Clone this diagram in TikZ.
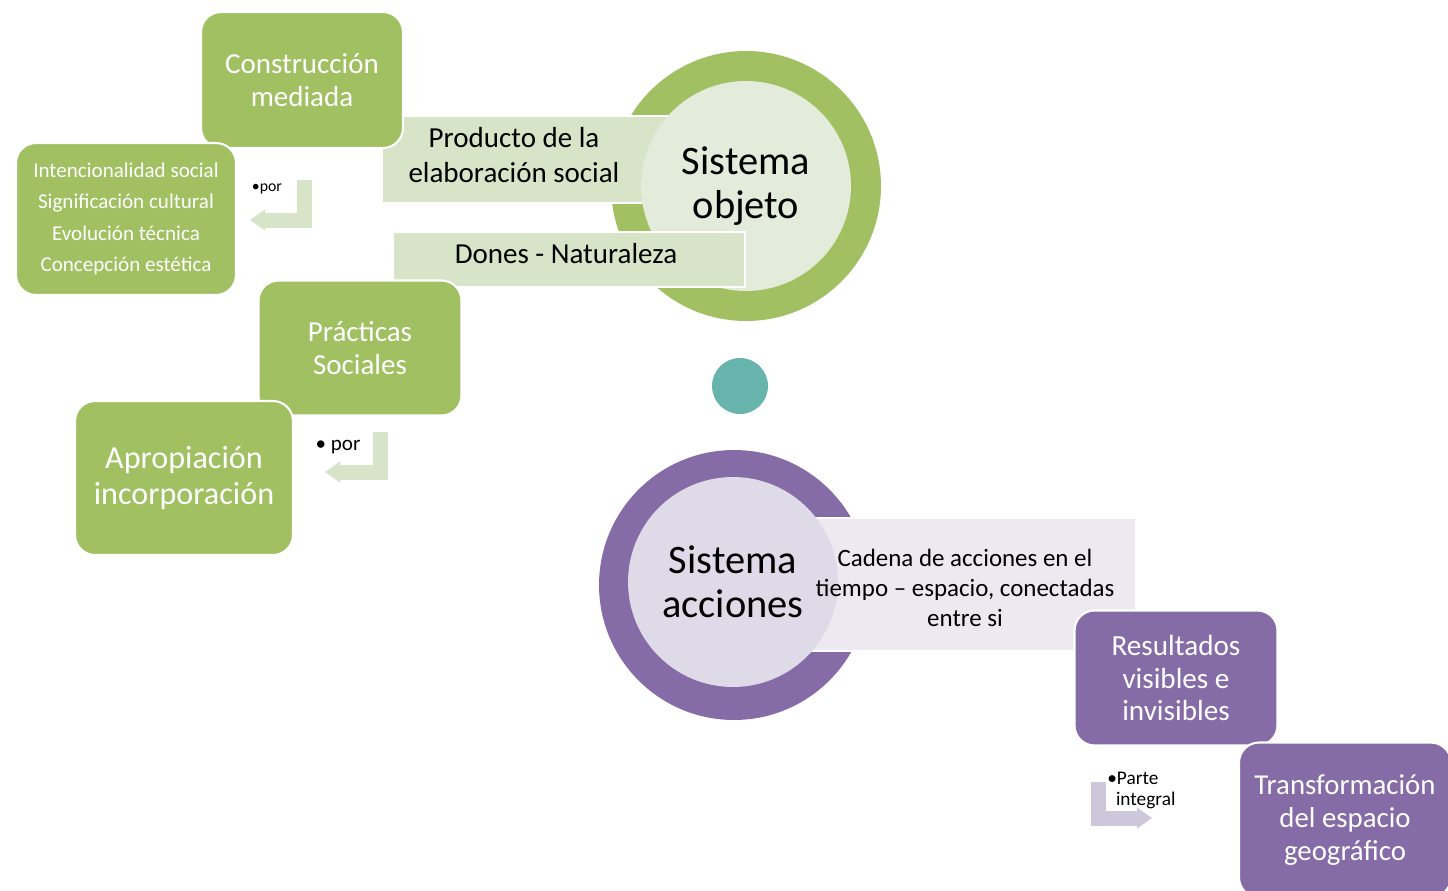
\documentclass[tikz,border=0pt]{standalone}
\usepackage{fontspec}
\setmainfont{Carlito}
\usepackage{tikz}
\usetikzlibrary{arrows.meta}
\definecolor{verde}{RGB}{160,192,98}
\definecolor{verdeclaro}{RGB}{215,228,199}
\definecolor{verdecirc}{RGB}{227,235,218}
\definecolor{morado}{RGB}{134,108,166}
\definecolor{moradoclaro}{RGB}{236,234,240}
\definecolor{moradocirc}{RGB}{223,218,232}
\definecolor{moradoflecha}{RGB}{205,199,219}
\definecolor{turquesa}{RGB}{102,180,172}
\tikzset{
    caja/.style={rectangle,rounded corners=0.4cm,draw=white,line width=1.2pt,text=white,align=center,inner sep=0pt},
    cajaverde/.style={caja,fill=verde},
    cajamorada/.style={caja,fill=morado},
    etiqueta/.style={rectangle,draw=white,line width=1.2pt,align=center,inner sep=0pt},
    anillo/.style={circle,inner sep=0pt,minimum size=5.4cm},
    centro/.style={circle,inner sep=0pt,minimum size=4.2cm,align=center,font=\fontsize{23}{25}\selectfont},
    flecha/.style={line width=0.3cm,-{Triangle[length=0.3cm,width=0.4cm]}},
    nota/.style={inner sep=0pt,align=left}
}

\begin{document}
\begin{tikzpicture}[x=0.02cm,y=-0.02cm]
    \clip (0,0) rectangle (1448,890);
    \fill[white] (0,0) rectangle (1448,890);
    % sistema objeto
    \node[anillo,fill=verde] (anilloobj) at (746,186) {};
    \node[etiqueta,fill=verdeclaro,minimum width=6.92cm,minimum height=1.74cm] (producto) at (555,159.5) {};
    \node[font=\fontsize{16.5}{20}\selectfont,align=center] (productotxt) at (514,155) {Producto de la\\elaboración social};
    \node[centro,fill=verdecirc] (sisobj) at (746,186) {Sistema\\objeto};
    \node[etiqueta,fill=verdeclaro,minimum width=7.04cm,minimum height=1.1cm] (dones) at (569,259.5) {};
    \node[font=\fontsize{16.5}{20}\selectfont] (donestxt) at (566,254) {Dones - Naturaleza};
    % lado verde
    \node[cajaverde,minimum width=4.04cm,minimum height=2.72cm,font=\fontsize{16.5}{18.7}\selectfont] (construccion) at (302,80) {Construcción\\mediada};
    \node[cajaverde,minimum width=4.4cm,minimum height=3.04cm,font=\fontsize{12}{17.9}\selectfont] (intencion) at (126,219) {Intencionalidad social\\Significación cultural\\Evolución técnica\\Concepción estética};
    \node[cajaverde,minimum width=4.06cm,minimum height=2.7cm,font=\fontsize{16.5}{18.7}\selectfont] (practicas) at (360,348) {Prácticas\\Sociales};
    \node[cajaverde,minimum width=4.36cm,minimum height=3.08cm,font=\fontsize{18.3}{20.3}\selectfont] (apropiacion) at (184,478) {Apropiación\\incorporación};
    \coordinate (por1a) at (304,180);
    \coordinate (por1b) at (250,220);
    \draw[flecha,color=verdeclaro] (por1a) |- (por1b);
    \node[nota,font=\fontsize{9}{10}\selectfont] (por1) at (267,189) {\textbullet por};
    \coordinate (por2a) at (380,432);
    \coordinate (por2b) at (325,472);
    \draw[flecha,color=verdeclaro] (por2a) |- (por2b);
    \node[nota,font=\fontsize{12}{13}\selectfont] (por2) at (338,447) {\textbullet\ por};
    % punto
    \node[circle,fill=turquesa,minimum size=1.12cm,inner sep=0pt] (punto) at (740,386) {};
    % sistema acciones
    \node[anillo,fill=morado] (anilloacc) at (734,585) {};
    \node[etiqueta,fill=moradoclaro,minimum width=6.92cm,minimum height=2.66cm] (cadena) at (963,584.5) {};
    \node[centro,fill=moradocirc] (sisacc) at (733,582) {Sistema\\acciones};
    \node[font=\fontsize{14.2}{17}\selectfont,align=center] (cadenatxt) at (965,588) {Cadena de acciones en el\\tiempo -- espacio, conectadas\\entre si};
    \node[cajamorada,minimum width=4.06cm,minimum height=2.7cm,font=\fontsize{16.6}{18.7}\selectfont] (resultados) at (1176,678) {Resultados\\visibles e\\invisibles};
    \node[cajamorada,minimum width=4.24cm,minimum height=3.1cm,font=\fontsize{16.4}{18.7}\selectfont] (transformacion) at (1345,820) {Transformación\\del espacio\\geográfico};
    \coordinate (partea) at (1098,782);
    \coordinate (parteb) at (1152,818);
    \draw[flecha,color=moradoflecha] (partea) |- (parteb);
    \node[nota,font=\fontsize{11}{12}\selectfont,anchor=north west] (parte) at (1107,772) {\textbullet Parte\\\hspace{0.45em}integral};
\end{tikzpicture}
\end{document}
